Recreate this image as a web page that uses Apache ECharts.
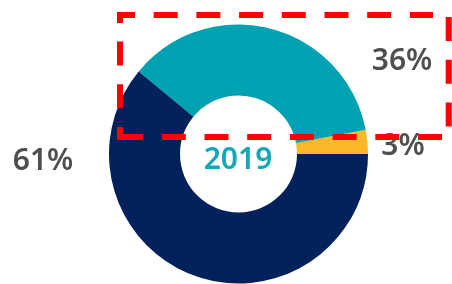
<!DOCTYPE html>
<html>
<head>
<meta charset="utf-8">
<script src="https://cdn.jsdelivr.net/npm/echarts@6/dist/echarts.min.js"></script>
<style>
  html, body { margin: 0; padding: 0; background: #fff; }
  #chart { width: 452px; height: 284px; }
</style>
</head>
<body>
<div id="chart"></div>
<script>
// data
let names = ['Yellow', 'Teal', 'Navy']
let values = [3, 36, 61]
let colors = ['#FDB827', '#00A1B1', '#00215A']
let centerLabel = '2019'

// where each percentage sits (by dataIndex)
let labelAt = [
  { x: 403, y: 146 },
  { x: 402, y: 61 },
  { x: 43, y: 161 }
]

let chart = echarts.init(document.getElementById('chart'), null, { renderer: 'canvas' })

// red dashed highlight box, drawn side by side so the corners match
function dashSide(x1, y1, x2, y2, offset) {
  return {
    type: 'line',
    shape: { x1: x1, y1: y1, x2: x2, y2: y2 },
    style: {
      stroke: '#FF0000',
      lineWidth: 6,
      lineCap: 'butt',
      lineDash: [24, 18.7],
      lineDashOffset: offset
    },
    z: 100
  }
}

let option = {
  animation: false,
  series: [{
    type: 'pie',
    center: [238.5, 154],
    radius: [58.5, 129.5],
    startAngle: 0,
    clockwise: false,
    avoidLabelOverlap: false,
    silent: true,
    data: names.map((n, i) => ({
      name: n,
      value: values[i],
      itemStyle: { color: colors[i] }
    })),
    label: {
      show: true,
      position: 'outside',
      formatter: p => p.value + '%',
      color: '#4F4F52',
      fontFamily: 'Noto Sans',
      fontWeight: 600,
      fontSize: 30
    },
    labelLine: { show: false },
    labelLayout: function (params) {
      let pos = labelAt[params.dataIndex]
      return { x: pos.x, y: pos.y, align: 'center', verticalAlign: 'middle' }
    }
  }],
  graphic: [
    {
      type: 'text',
      style: {
        text: centerLabel,
        x: 238,
        y: 160,
        fill: '#14A7B7',
        font: '600 30px "Noto Sans"',
        textAlign: 'center',
        textVerticalAlign: 'middle'
      }
    },
    dashSide(117, 15, 433, 15, 6),
    dashSide(448.7, 17, 448.7, 127, 0),
    dashSide(442, 137, 116, 137, 0),
    dashSide(120, 140, 120, 12, 11)
  ]
}

chart.setOption(option)
</script>
</body>
</html>
